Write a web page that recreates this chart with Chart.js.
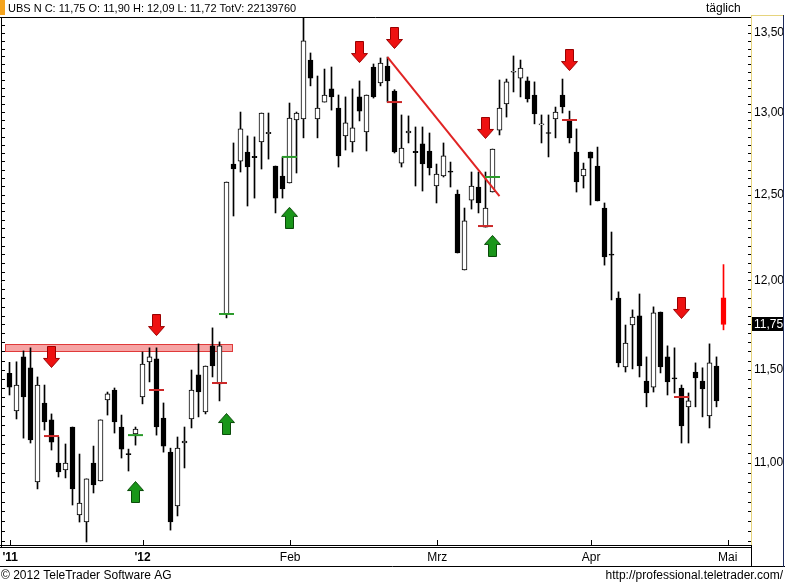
<!DOCTYPE html>
<html><head><meta charset="utf-8">
<script src="https://cdn.jsdelivr.net/npm/chart.js@4.4.1/dist/chart.umd.min.js"></script>
<style>html,body{margin:0;padding:0;background:#fff;overflow:hidden}canvas{display:block}</style>
</head><body>
<canvas id="c" width="785" height="583"></canvas>
<script>
// ---- data (daily candles, UBS N) ----
const opens = [11.48,11.276,11.57,11.51,10.901,11.319,11.228,11.0,10.964,11.19,
10.731,10.695,11.0,10.906,11.335,11.389,11.19,11.05,11.153,11.351,
11.543,11.559,11.238,11.057,10.777,11.105,11.233,11.471,11.271,11.631,
11.422,11.809,12.683,12.701,12.756,12.73,12.817,12.868,12.671,12.611,
12.569,12.952,12.958,13.327,12.958,13.063,13.145,13.026,12.854,12.817,
13.095,12.878,13.283,13.182,13.289,13.132,12.689,12.872,12.76,12.805,
12.762,12.551,12.611,12.64,12.503,12.059,12.467,12.545,12.308,12.515,
12.89,13.051,13.25,13.213,13.195,13.107,12.922,12.875,12.958,13.107,
12.946,12.756,12.611,12.756,12.671,12.42,12.15,11.899,11.515,11.747,
11.798,11.438,11.405,11.82,11.57,11.455,11.40,11.298,11.487,11.438,
11.249,11.52,11.90];
const highs = [11.54,11.543,11.603,11.62,11.46,11.416,11.26,11.137,11.1,11.19,
11.047,10.917,11.089,11.228,11.378,11.40,11.254,11.073,11.19,11.597,
11.62,11.62,11.319,11.078,11.137,11.19,11.498,11.642,11.52,11.731,
11.653,12.575,12.811,13.001,12.854,12.848,12.995,12.995,12.671,12.726,
13.057,13.001,13.62,13.372,13.226,13.27,13.283,13.107,13.095,13.145,
13.195,13.107,13.302,13.34,13.346,13.14,12.983,12.977,12.909,12.909,
12.872,12.683,12.811,12.695,12.527,12.42,12.635,12.635,12.635,12.774,
13.201,13.207,13.353,13.327,13.22,13.189,12.983,12.983,13.032,13.207,
13.007,12.897,12.689,12.756,12.786,12.45,12.279,11.934,11.747,11.832,
11.922,11.57,11.849,11.82,11.631,11.62,11.416,11.373,11.537,11.51,
11.642,11.57,12.09];
const lows = [11.362,11.233,11.131,11.105,10.865,11.174,11.068,10.927,10.922,10.782,
10.695,10.594,10.844,10.906,11.254,11.158,11.026,10.958,11.094,11.314,
11.433,11.147,11.057,10.654,10.726,10.974,11.185,11.244,11.26,11.46,
11.33,11.787,12.373,12.635,12.432,12.479,12.653,12.713,12.391,12.479,
12.569,12.629,12.842,13.164,12.842,13.063,13.013,12.665,12.768,12.756,
12.946,12.762,13.088,13.164,13.063,12.75,12.665,12.811,12.551,12.521,
12.617,12.45,12.605,12.545,12.157,12.059,12.414,12.391,12.308,12.515,
12.86,12.97,13.126,13.095,13.063,12.928,12.811,12.726,12.842,12.995,
12.811,12.515,12.539,12.438,12.462,12.087,11.888,11.515,11.487,11.504,
11.46,11.298,11.378,11.482,11.362,11.373,11.105,11.105,11.298,11.244,
11.185,11.298,11.72];
const closes = [11.405,11.416,11.351,11.121,11.416,11.217,11.11,10.953,11.0,10.865,
10.792,10.917,10.886,11.228,11.368,11.217,11.073,11.044,11.179,11.531,
11.57,11.19,11.089,10.695,11.078,11.116,11.389,11.378,11.52,11.52,
11.631,12.575,12.653,12.897,12.665,12.722,12.995,12.876,12.479,12.533,
12.964,12.995,13.449,13.213,13.026,13.107,13.095,12.732,12.934,12.903,
13.007,13.107,13.095,13.308,13.195,12.756,12.78,12.884,12.752,12.683,
12.659,12.623,12.732,12.634,12.157,12.344,12.551,12.45,12.42,12.774,
13.026,13.189,13.256,13.276,13.082,12.989,12.928,12.869,13.001,13.032,
12.842,12.575,12.653,12.719,12.462,12.134,12.144,11.537,11.647,11.792,
11.52,11.373,11.815,11.515,11.433,11.449,11.196,11.33,11.455,11.395,
11.537,11.33,11.75];

const yTickLabels = [11, 11.5, 12, 12.5, 13, 13.5];
const yMinorStep = 0.05;
const monthLabels = ["'11", "'12", "Feb", "Mrz", "Apr", "Mai"];
const monthTickIdx = [0.1, 19, 40.1, 61.1, 83.1, 102.6];

const redMarkIdx = [6, 21, 30, 55, 68, 80, 96];
const redMarkVal = [11.142, 11.389, 11.427, 13.063, 12.314, 12.952, 11.351];
const greenMarkIdx = [18, 31, 40, 69];
const greenMarkVal = [11.147, 11.809, 12.726, 12.605];
const downArrowIdx = [6, 21, 50, 55, 68, 80, 96];
const downArrowVal = [11.570, 11.747, 13.378, 13.468, 12.903, 13.327, 11.843];
const upArrowIdx = [18, 31, 40, 69];
const upArrowVal = [10.849, 11.206, 12.362, 12.198];
const trendIdx = [54, 70];
const trendVal = [13.346, 12.491];
const bandIdx = [-0.65, 31.95];
const bandVal = [11.597, 11.642];

const headerText = 'UBS N C: 11,75 O: 11,90 H: 12,09 L: 11,72 TotV: 22139760';
const FONT = '"Liberation Sans", Arial, sans-serif';
const fmt = v => v.toFixed(2).replace('.', ',');

const N = opens.length;
const last = N - 1;

function makeArrow(fill, stroke, down) {
  const c = document.createElement('canvas'); c.width = 17; c.height = 22;
  const g = c.getContext('2d');
  let pts = [[4.5,0.5],[12.5,0.5],[12.5,12.5],[16.5,12.5],[8.5,21.5],[0.5,12.5],[4.5,12.5]];
  if (!down) pts = pts.map(p => [p[0], 22 - p[1]]);
  g.beginPath();
  pts.forEach((p, k) => k ? g.lineTo(p[0], p[1]) : g.moveTo(p[0], p[1]));
  g.closePath();
  g.fillStyle = fill; g.fill();
  g.strokeStyle = stroke; g.lineWidth = 1; g.stroke();
  return c;
}
const downImg = makeArrow('#ee1111', '#9a0000', true);
const upImg = makeArrow('#1a961a', '#0a4a0a', false);

const bodyData = opens.map((o, i) => ({x: i, y: [o, closes[i]]}));
const wickData = lows.map((l, i) => ({x: i, y: [l, highs[i]]}));
const bodyFill = opens.map((o, i) => i === last ? '#ff0000' : (closes[i] >= o ? '#ffffff' : '#000000'));
const bodyBorder = opens.map((o, i) => i === last ? '#ff0000' : '#000000');
const wickColor = opens.map((o, i) => i === last ? '#ff0000' : '#000000');

const framePlugin = {
  id: 'frame',
  beforeDatasetsDraw(chart) {
    const {ctx, scales: {x, y}} = chart;
    const x0 = Math.round(x.getPixelForValue(bandIdx[0]));
    const x1 = Math.round(x.getPixelForValue(bandIdx[1]));
    const yt = Math.round(y.getPixelForValue(bandVal[1]));
    const yb = Math.round(y.getPixelForValue(bandVal[0]));
    ctx.save();
    ctx.fillStyle = '#f6a4a4';
    ctx.fillRect(x0, yt, x1 - x0, yb - yt);
    ctx.strokeStyle = '#e03a3a'; ctx.lineWidth = 1;
    ctx.strokeRect(x0 + 0.5, yt + 0.5, x1 - x0 - 1, yb - yt - 1);
    ctx.restore();
  },
  afterDraw(chart) {
    const {ctx, scales: {x, y}, chartArea: a} = chart;
    ctx.save();
    ctx.lineWidth = 1;
    ctx.strokeStyle = '#000';
    ctx.beginPath();
    ctx.moveTo(0, 17.5); ctx.lineTo(751, 17.5);
    ctx.moveTo(1.5, 17); ctx.lineTo(1.5, 548);
    ctx.moveTo(0, 545.5); ctx.lineTo(752, 545.5);
    ctx.moveTo(0, 547.5); ctx.lineTo(752, 547.5);
    ctx.moveTo(0, 566.5); ctx.lineTo(785, 566.5);
    ctx.moveTo(751.5, 546); ctx.lineTo(751.5, 566);
    ctx.stroke();
    ctx.strokeStyle = '#e6d47e';
    ctx.beginPath();
    ctx.moveTo(751.5, 15); ctx.lineTo(751.5, 545);
    ctx.moveTo(751, 15.5); ctx.lineTo(783, 15.5);
    ctx.stroke();
    ctx.strokeStyle = '#1c2a5a';
    ctx.beginPath();
    ctx.moveTo(783.5, 15); ctx.lineTo(783.5, 567);
    ctx.stroke();
    ctx.strokeStyle = '#000';
    ctx.beginPath();
    y.ticks.forEach(t => {
      const py = Math.round(y.getPixelForValue(t.value)) + 0.5;
      if (py < a.top + 2 || py > a.bottom - 2) return;
      ctx.moveTo(748, py); ctx.lineTo(751, py);
      ctx.moveTo(2, py); ctx.lineTo(5, py);
    });
    x.ticks.forEach(t => {
      const px = Math.round(x.getPixelForValue(t.value)) + 0.5;
      ctx.moveTo(px, 540); ctx.lineTo(px, 545);
    });
    ctx.stroke();
    const cy = Math.round(y.getPixelForValue(closes[last]));
    ctx.fillStyle = '#000';
    ctx.fillRect(752, cy - 7, 31, 14);
    ctx.fillStyle = '#fff';
    ctx.font = '12px ' + FONT;
    ctx.textBaseline = 'middle';
    ctx.fillText(fmt(closes[last]), 754, cy + 0.5);
    ctx.fillStyle = '#f5a41e';
    ctx.fillRect(0, 0, 5, 15);
    ctx.fillStyle = '#000';
    ctx.textBaseline = 'alphabetic';
    ctx.font = '11px ' + FONT;
    ctx.fillText(headerText, 8, 12);
    ctx.font = '12px ' + FONT;
    ctx.fillText('täglich', 706, 12);
    ctx.fillText('\u00a9 2012 TeleTrader Software AG', 1, 579);
    ctx.textAlign = 'right';
    ctx.fillText('http://professional.teletrader.com/', 783, 579);
    ctx.restore();
  }
};

new Chart(document.getElementById('c'), {
  type: 'bar',
  data: {
    datasets: [
      {type: 'scatter', data: downArrowIdx.map((v, k) => ({x: v, y: downArrowVal[k]})),
        pointStyle: downImg, order: 0},
      {type: 'scatter', data: upArrowIdx.map((v, k) => ({x: v, y: upArrowVal[k]})),
        pointStyle: upImg, order: 0},
      {type: 'scatter', data: redMarkIdx.map((v, k) => ({x: v, y: redMarkVal[k]})),
        pointStyle: 'line', pointRadius: 7.5, pointBorderWidth: 2, borderWidth: 2,
        borderColor: '#cc2828', pointBorderColor: '#cc2828', order: 1},
      {type: 'scatter', data: greenMarkIdx.map((v, k) => ({x: v, y: greenMarkVal[k]})),
        pointStyle: 'line', pointRadius: 7.5, pointBorderWidth: 2, borderWidth: 2,
        borderColor: '#2a9a2a', pointBorderColor: '#2a9a2a', order: 1},
      {type: 'line', data: trendIdx.map((v, k) => ({x: v, y: trendVal[k]})),
        borderColor: '#e02424', borderWidth: 2, pointRadius: 0, fill: false, tension: 0, order: 2},
      {type: 'bar', data: bodyData, grouped: false, barThickness: 5, borderWidth: 1,
        borderSkipped: false, minBarLength: 1,
        backgroundColor: bodyFill, borderColor: bodyBorder, order: 3},
      {type: 'bar', data: wickData, grouped: false, barThickness: 1, borderWidth: 0,
        borderSkipped: false, backgroundColor: wickColor, order: 4}
    ]
  },
  options: {
    responsive: false,
    devicePixelRatio: 1,
    animation: false,
    events: [],
    layout: {autoPadding: false, padding: {left: 2, right: 0, top: 17, bottom: 17}},
    plugins: {legend: {display: false}, tooltip: {enabled: false}},
    scales: {
      x: {
        type: 'linear', position: 'bottom', offset: false, bounds: 'data',
        min: -1.0714286, max: 105.9285714,
        afterFit: s => { s.height = 20; s.paddingLeft = 0; s.paddingRight = 0; },
        afterBuildTicks: s => { s.ticks = monthTickIdx.map(v => ({value: v})); },
        grid: {display: false, drawTicks: false, offset: false},
        border: {display: false},
        ticks: {
          autoSkip: false, maxRotation: 0, padding: 4, color: '#000',
          font: ctx => ({family: FONT, size: 12, weight: ctx.index <= 1 ? 'bold' : 'normal'}),
          callback: (v, i) => monthLabels[i]
        }
      },
      y: {
        type: 'logarithmic', position: 'right', bounds: 'data',
        min: 10.5736, max: 13.603,
        afterFit: s => { s.width = 34; s.paddingTop = 0; s.paddingBottom = 0; },
        afterBuildTicks: s => {
          const t = [];
          for (let k = Math.ceil(10.5736 / yMinorStep); k * yMinorStep <= 13.603; k++) t.push({value: +(k * yMinorStep).toFixed(2)});
          s.ticks = t;
        },
        grid: {display: false, drawTicks: false},
        border: {display: false},
        ticks: {
          autoSkip: false, padding: 3, color: '#000',
          font: {family: FONT, size: 12},
          callback: v => yTickLabels.some(l => Math.abs(l - v) < 1e-6) ? fmt(v) : ''
        }
      }
    }
  },
  plugins: [framePlugin]
});
</script>
</body></html>
